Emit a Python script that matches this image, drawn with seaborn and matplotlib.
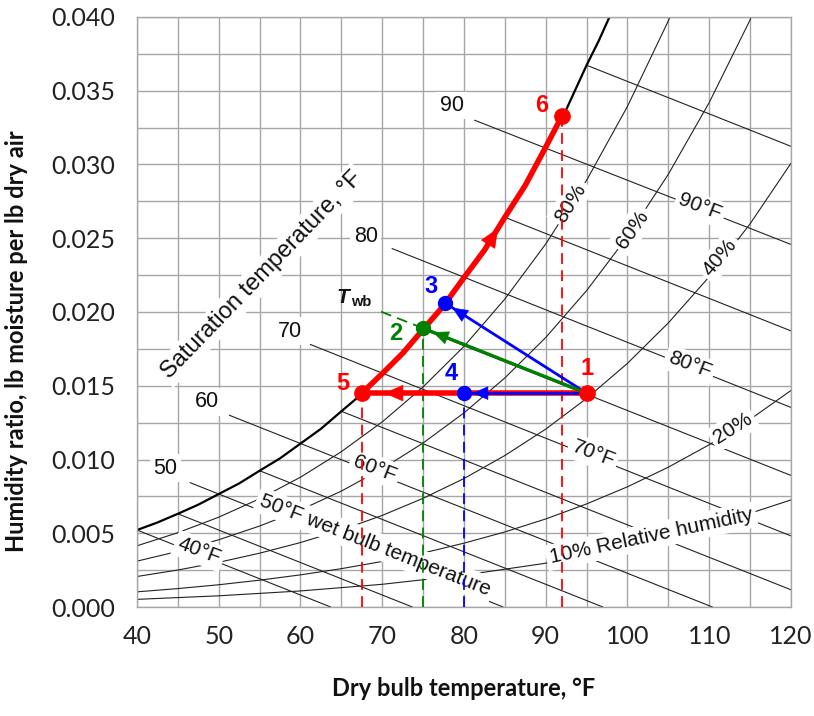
import numpy as np
import pandas as pd
import matplotlib
matplotlib.use("Agg")
import matplotlib.pyplot as plt
import seaborn as sns

# saturation curve (100 % RH), humidity ratio lb/lb
sat_T = [40, 42.5, 45, 47.5, 50, 52.5, 55, 57.5, 60, 62.5, 65, 67.5, 70, 72.5, 75, 77.5,
         80, 82.5, 85, 87.5, 90, 92.5, 95, 96.5, 97.8]
sat_W = [0.00522, 0.00573, 0.00632, 0.00694, 0.00766, 0.00838, 0.00924, 0.01008, 0.01108,
         0.01208, 0.01327, 0.01444, 0.01582, 0.01720, 0.01882, 0.02042, 0.02233, 0.02419,
         0.02642, 0.02859, 0.03118, 0.03371, 0.03673, 0.03840, 0.0400]

# relative humidity curves
rh80_T = [40, 45, 50, 55, 60, 65, 70, 75, 80, 85, 90, 95, 100, 105, 105.2]
rh80_W = [0.00415, 0.00504, 0.00609, 0.00734, 0.00880, 0.01053, 0.01255, 0.01492, 0.01767,
          0.02088, 0.02461, 0.02893, 0.03394, 0.03974, 0.0400]
rh60_T = [40, 45, 50, 55, 60, 65, 70, 75, 80, 85, 90, 95, 100, 105, 110, 115, 115.1]
rh60_W = [0.00311, 0.00377, 0.00456, 0.00549, 0.00658, 0.00786, 0.00937, 0.01112, 0.01316,
          0.01553, 0.01827, 0.02145, 0.02511, 0.02934, 0.03420, 0.03980, 0.0400]
rh40_T = [40, 45, 50, 55, 60, 65, 70, 75, 80, 85, 90, 95, 100, 105, 110, 115, 120]
rh40_W = [0.00207, 0.00251, 0.00303, 0.00365, 0.00437, 0.00522, 0.00621, 0.00737, 0.00871,
          0.01027, 0.01206, 0.01414, 0.01652, 0.01926, 0.02239, 0.02598, 0.03008]
rh20_T = [40, 45, 50, 55, 60, 65, 70, 75, 80, 85, 90, 95, 100, 105, 110, 115, 120]
rh20_W = [0.00103, 0.00125, 0.00151, 0.00182, 0.00218, 0.00260, 0.00309, 0.00366, 0.00433,
          0.00509, 0.00597, 0.00699, 0.00815, 0.00948, 0.01100, 0.01272, 0.01468]
rh10_T = [40, 50, 60, 70, 80, 90, 100, 110, 120]
rh10_W = [0.00052, 0.00076, 0.00109, 0.00154, 0.00216, 0.00297, 0.00405, 0.00545, 0.00726]

# wet bulb lines: start and end of each line
wb_temp = [40, 45, 50, 55, 60, 65, 70, 75, 80, 85, 90, 95]
wb_T0 = [40, 45, 46.5, 55, 51.3, 65, 61.2, 75, 71.2, 85, 81.3, 95]
wb_W0 = [0.00522, 0.00632, 0.00843, 0.00924, 0.0130, 0.01327, 0.0178, 0.01882, 0.0243,
         0.02642, 0.0330, 0.03673]
wb_T1 = [63.7, 73.7, 84.8, 97.0, 110.4, 120, 120, 120, 120, 120, 120, 120]
wb_W1 = [0.0, 0.0, 0.0, 0.0, 0.0, 0.00117, 0.00482, 0.00892, 0.01353, 0.01872, 0.02458, 0.03123]

# process states
pts_name = ["1", "2", "3", "4", "5", "6"]
pts_T = [95.0, 75.0, 77.7, 80.0, 67.5, 92.0]
pts_W = [0.0145, 0.0189, 0.0206, 0.0145, 0.0145, 0.0333]

# dashed wet bulb extension through state 2
twb_ext_T = [75.0, 69.5]
twb_ext_W = [0.0189, 0.0201]

sns.set_theme(style="white")
plt.rcParams['font.family'] = ['Lato', 'DejaVu Sans']
lab_font = ['Liberation Sans', 'DejaVu Sans']

RED, GREEN, BLUE = "#ff0000", "#008000", "#0000ff"
GRID = "#a6a6a6"

fig, ax = plt.subplots(figsize=(8.14, 7.16), dpi=100)
fig.subplots_adjust(left=0.1683, right=0.9717, top=0.9763, bottom=0.1522)

# background curves
rh = pd.concat([
    pd.DataFrame({"T": t, "W": w, "curve": name})
    for name, t, w in [("80", rh80_T, rh80_W), ("60", rh60_T, rh60_W), ("40", rh40_T, rh40_W),
                       ("20", rh20_T, rh20_W), ("10", rh10_T, rh10_W)]
])
sns.lineplot(data=rh, x="T", y="W", units="curve", estimator=None, sort=False,
             color="#222222", lw=0.8, legend=False, ax=ax, zorder=2)

wb = pd.DataFrame({"T": wb_T0 + wb_T1, "W": wb_W0 + wb_W1, "curve": wb_temp + wb_temp})
sns.lineplot(data=wb, x="T", y="W", units="curve", estimator=None, sort=False,
             color="#222222", lw=0.8, legend=False, ax=ax, zorder=2)

sat = pd.DataFrame({"T": sat_T, "W": sat_W})
sns.lineplot(data=sat, x="T", y="W", color="black", lw=1.6, ax=ax, zorder=2)

# labels on the chart
box = dict(facecolor="white", edgecolor="none", pad=2.5)
chart_labels = [
    ("90", 78.5, 0.0340, 0, 15.5), ("80", 68.0, 0.0251, 0, 15.5), ("70", 58.7, 0.0187, 0, 15.5),
    ("60", 48.6, 0.0139, 0, 15.5), ("50", 43.5, 0.0094, 0, 15.5),
    ("90°F", 108.9, 0.0271, -21, 15), ("80°F", 107.6, 0.0164, -21, 15),
    ("70°F", 95.8, 0.0104, -21, 15), ("60°F", 69.1, 0.0094, -21, 15),
    ("50°F wet bulb temperature", 69.1, 0.0042, -21.5, 15), ("40°F", 47.6, 0.0038, -21, 15),
    ("80%", 93.0, 0.0274, 58, 15), ("60%", 100.6, 0.0256, 55, 15), ("40%", 111.3, 0.0237, 50, 15),
    ("20%", 112.9, 0.0121, 32, 15), ("10% Relative humidity", 102.9, 0.0048, 12, 15),
    ("Saturation temperature, °F", 55.3, 0.0225, 46, 17),
]
for txt, x, y, rot, fs in chart_labels:
    ax.text(x, y, txt, rotation=rot, ha="center", va="center", fontsize=fs,
            family=lab_font, color="#111111", bbox=box, zorder=3,
            rotation_mode="anchor")

# vertical dashed lines from the states down to the axis
for i, c in [(4, RED), (1, GREEN), (3, BLUE), (5, RED)]:
    ax.vlines(pts_T[i], 0, pts_W[i], colors=c, linestyles=(0, (6, 3.5)), lw=1.3, zorder=4)
ax.plot(twb_ext_T, twb_ext_W, color=GREEN, ls=(0, (6, 3.5)), lw=1.3, zorder=4)

P = {n: (t, w) for n, t, w in zip(pts_name, pts_T, pts_W)}

def head(p0, p1, frac, color, scale):
    tip = (p0[0] + frac * (p1[0] - p0[0]), p0[1] + frac * (p1[1] - p0[1]))
    tail = (p0[0] + (frac - 0.05) * (p1[0] - p0[0]), p0[1] + (frac - 0.05) * (p1[1] - p0[1]))
    ax.annotate("", xy=tip, xytext=tail, zorder=7,
                arrowprops=dict(arrowstyle="-|>,head_length=0.8,head_width=0.35",
                                color=color, lw=0.5, shrinkA=0, shrinkB=0,
                                mutation_scale=scale))

# 1 -> 5 (red), 1 -> 4 (blue), 1 -> 3 (blue), 1 -> 2 (green)
ax.plot([P["1"][0], P["5"][0]], [P["1"][1], P["5"][1]], color=RED, lw=4, zorder=5,
        solid_capstyle="butt")
ax.plot([P["1"][0], P["4"][0]], [P["1"][1], P["4"][1]], color=BLUE, lw=2, zorder=6)
ax.plot([P["1"][0], P["3"][0]], [P["1"][1], P["3"][1]], color=BLUE, lw=2, zorder=6)
ax.plot([P["1"][0], P["2"][0]], [P["1"][1], P["2"][1]], color=GREEN, lw=2.4, zorder=6)
head(P["1"], P["5"], 0.90, RED, 16)
head(P["1"], P["4"], 0.93, BLUE, 13)
head(P["1"], P["3"], 0.95, BLUE, 13)
head(P["1"], P["2"], 0.94, GREEN, 13)

# 5 -> 6 along the saturation curve
path_T = [P["5"][0]] + [t for t in sat_T if P["5"][0] < t < P["6"][0]] + [P["6"][0]]
path_W = [P["5"][1]] + [w for t, w in zip(sat_T, sat_W) if P["5"][0] < t < P["6"][0]] + [P["6"][1]]
ax.plot(path_T, path_W, color=RED, lw=4, zorder=5, solid_capstyle="butt")
t_tip = P["5"][0] + 0.68 * (P["6"][0] - P["5"][0])
t_tail = t_tip - 1.2
ax.annotate("", xy=(t_tip, np.interp(t_tip, path_T, path_W)),
            xytext=(t_tail, np.interp(t_tail, path_T, path_W)), zorder=7,
            arrowprops=dict(arrowstyle="-|>,head_length=0.8,head_width=0.35", color=RED,
                            lw=0.5, shrinkA=0, shrinkB=0, mutation_scale=16))

# state markers and numbers
pt_style = {"1": (RED, 11, (0, 25)), "2": (GREEN, 10, (-27, -5)), "3": (BLUE, 10, (-14, 17)),
            "4": (BLUE, 10, (-13, 20)), "5": (RED, 11, (-19, 10)), "6": (RED, 11, (-20, 10))}
for n in pts_name:
    c, ms, off = pt_style[n]
    ax.plot(*P[n], "o", color=c, ms=ms, zorder=8)
    ax.annotate(n, xy=P[n], xytext=off, textcoords="offset pixels", ha="center", va="center",
                fontsize=17, fontweight="bold", color=c, family=lab_font, zorder=8)

# T_wb label
ax.annotate("T", xy=(twb_ext_T[1], twb_ext_W[1]), xytext=(-35, 13),
            textcoords="offset pixels", ha="center", va="center", fontsize=15,
            fontweight="bold", fontstyle="italic", family=lab_font, color="#111111")
ax.annotate("wb", xy=(twb_ext_T[1], twb_ext_W[1]), xytext=(-17, 9),
            textcoords="offset pixels", ha="center", va="center", fontsize=10.5,
            fontweight="bold", family=lab_font, color="#111111")

# axes
ax.set_xlim(40, 120)
ax.set_ylim(0, 0.040)
ax.set_xticks(np.arange(40, 121, 10))
ax.set_xticks(np.arange(45, 120, 10), minor=True)
ax.set_yticks(np.arange(0, 0.0401, 0.005))
ax.set_yticks(np.arange(0.0025, 0.040, 0.005), minor=True)
ax.yaxis.set_major_formatter(matplotlib.ticker.FormatStrFormatter("%.3f"))
ax.grid(which="both", color=GRID, lw=1.0)
ax.set_axisbelow(True)
ax.tick_params(which="major", length=5, width=1.0, color=GRID, labelsize=18,
               labelcolor="#222222")
ax.tick_params(axis="x", pad=8)
ax.tick_params(axis="y", pad=11)
ax.tick_params(which="minor", length=0)
for s in ax.spines.values():
    s.set_color(GRID)
    s.set_linewidth(1.0)

ax.set_xlabel("Dry bulb temperature, °F", fontsize=17, fontweight="bold", color="#111111")
ax.set_ylabel("Humidity ratio, lb moisture per lb dry air", fontsize=17, fontweight="bold",
              color="#111111")
ax.xaxis.set_label_coords(0.5, -0.118)
ax.yaxis.set_label_coords(-0.166, 0.45)

fig.savefig("out.png", dpi=100)
